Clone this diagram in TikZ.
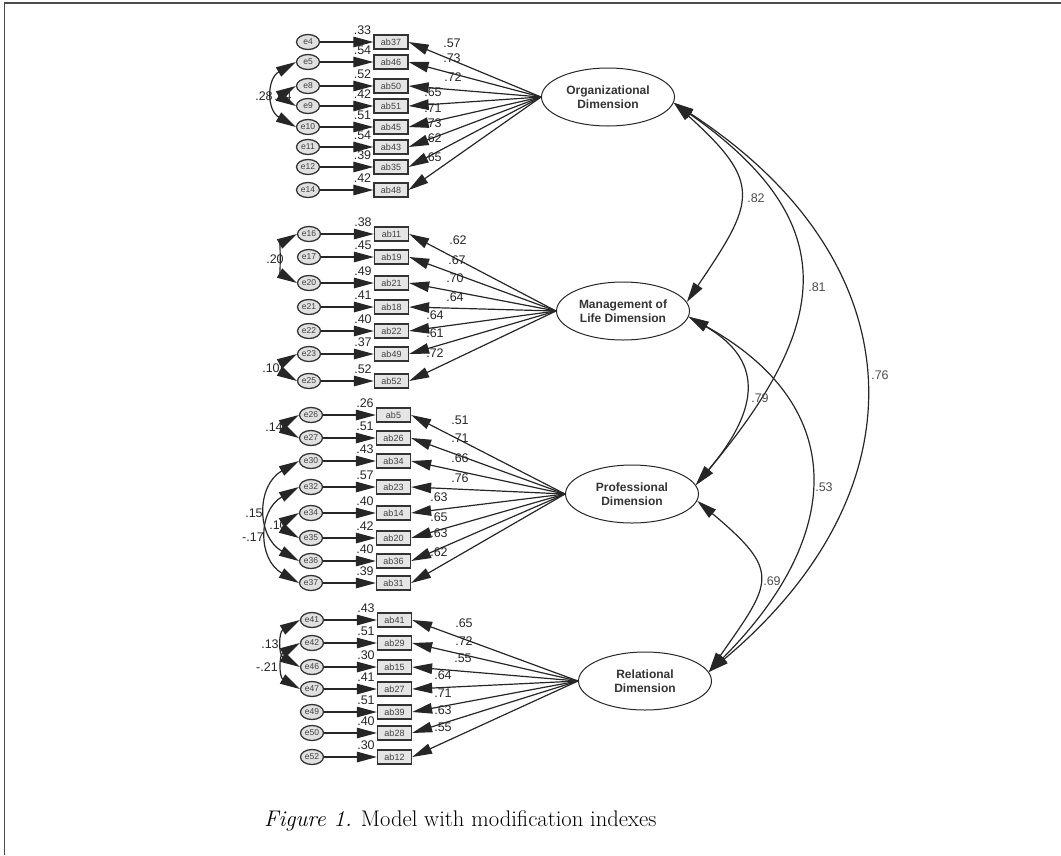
\documentclass[tikz,border=0pt]{standalone}
\usepackage{fontspec}
\usepackage{tikz}
\usetikzlibrary{arrows.meta,shapes.geometric}
\newfontfamily\amosfont{Liberation Sans}

\begin{document}
\begin{tikzpicture}[x=1pt, y=1pt,
    err/.style={ellipse, draw=black!80, fill=black!12, line width=1.3pt, minimum width=23pt, minimum height=15pt, inner sep=0pt, font=\amosfont\fontsize{8.5}{8.5}\selectfont, text=black!75},
    item/.style={rectangle, draw=black!80, fill=black!10, line width=1.3pt, minimum width=34pt, minimum height=14pt, inner sep=0pt, font=\amosfont\fontsize{9}{9}\selectfont, text=black!75},
    latent/.style={ellipse, draw=black!85, line width=1pt, minimum width=133pt, minimum height=58pt, inner sep=0pt, align=center, font=\amosfont\bfseries\fontsize{12}{14}\selectfont, text=black!80},
    reg/.style={-{Triangle[length=20pt, width=10.5pt]}, line width=1.2pt, black!85},
    cov/.style={{Triangle[length=20pt, width=10.5pt]}-{Triangle[length=20pt, width=10.5pt]}, line width=1.2pt, black!85},
    r2/.style={inner sep=0pt, xshift=-2pt, font=\amosfont\fontsize{12.5}{12.5}\selectfont, text=black!85},
    est/.style={inner sep=0pt, font=\amosfont\fontsize{12.5}{12.5}\selectfont, text=black!85},
    ]
    \useasboundingbox (0,0) rectangle (1061,-855);
    \draw[black!70, line width=1.5pt] (4.5,-855) -- (4.5,-3) -- (1061,-3);

    \node[latent] (org) at (608,-97) {Organizational\\Dimension};
    \node[latent] (life) at (623,-311) {Management of\\Life Dimension};
    \node[latent] (prof) at (632,-494) {Professional\\Dimension};
    \node[latent] (rel) at (645,-681) {Relational\\Dimension};

    \node[err] (e4) at (308,-42) {e4};
    \node[err] (e5) at (308,-62) {e5};
    \node[err] (e8) at (308,-86) {e8};
    \node[err] (e9) at (308,-106) {e9};
    \node[err] (e10) at (308,-127) {e10};
    \node[err] (e11) at (308,-147) {e11};
    \node[err] (e12) at (308,-167) {e12};
    \node[err] (e14) at (308,-190) {e14};
    \node[item, label={[r2]north west:.33}] (ab37) at (391,-42) {ab37};
    \node[item, label={[r2]north west:.54}] (ab46) at (391,-62) {ab46};
    \node[item, label={[r2]north west:.52}] (ab50) at (391,-86) {ab50};
    \node[item, label={[r2]north west:.42}] (ab51) at (391,-106) {ab51};
    \node[item, label={[r2]north west:.51}] (ab45) at (391,-127) {ab45};
    \node[item, label={[r2]north west:.54}] (ab43) at (391,-147) {ab43};
    \node[item, label={[r2]north west:.39}] (ab35) at (391,-167) {ab35};
    \node[item, label={[r2]north west:.42}] (ab48) at (391,-190) {ab48};
    \draw[reg] (e4) -- (ab37);
    \draw[reg] (e5) -- (ab46);
    \draw[reg] (e8) -- (ab50);
    \draw[reg] (e9) -- (ab51);
    \draw[reg] (e10) -- (ab45);
    \draw[reg] (e11) -- (ab43);
    \draw[reg] (e12) -- (ab35);
    \draw[reg] (e14) -- (ab48);
    \draw[reg] (org.west) -- (ab37.east) node[est] at (452,-43) {.57};
    \draw[reg] (org.west) -- (ab46.east) node[est] at (452,-58) {.73};
    \draw[reg] (org.west) -- (ab50.east) node[est] at (453,-77) {.72};
    \draw[reg] (org.west) -- (ab51.east) node[est] at (433,-92) {.65};
    \draw[reg] (org.west) -- (ab45.east) node[est] at (433,-108) {.71};
    \draw[reg] (org.west) -- (ab43.east) node[est] at (433,-123) {.73};
    \draw[reg] (org.west) -- (ab35.east) node[est] at (433,-138) {.62};
    \draw[reg] (org.west) -- (ab48.east) node[est] at (433,-157) {.65};
    \draw[cov] (e5.west) to[out=210, in=150, looseness=1.33] (e10.west) node[est] at (264,-96) {.28};
    \draw[cov] (e8.west) to[out=210, in=150, looseness=1.4] (e9.west) node[est] at (283,-96) {.24};

    \node[err] (e16) at (309,-234) {e16};
    \node[err] (e17) at (309,-257) {e17};
    \node[err] (e20) at (309,-283) {e20};
    \node[err] (e21) at (309,-307) {e21};
    \node[err] (e22) at (309,-331) {e22};
    \node[err] (e23) at (309,-354) {e23};
    \node[err] (e25) at (309,-381) {e25};
    \node[item, label={[r2]north west:.38}] (ab11) at (391.5,-234) {ab11};
    \node[item, label={[r2]north west:.45}] (ab19) at (391.5,-257) {ab19};
    \node[item, label={[r2]north west:.49}] (ab21) at (391.5,-283) {ab21};
    \node[item, label={[r2]north west:.41}] (ab18) at (391.5,-307) {ab18};
    \node[item, label={[r2]north west:.40}] (ab22) at (391.5,-331) {ab22};
    \node[item, label={[r2]north west:.37}] (ab49) at (391.5,-354) {ab49};
    \node[item, label={[r2]north west:.52}] (ab52) at (391.5,-381) {ab52};
    \draw[reg] (e16) -- (ab11);
    \draw[reg] (e17) -- (ab19);
    \draw[reg] (e20) -- (ab21);
    \draw[reg] (e21) -- (ab18);
    \draw[reg] (e22) -- (ab22);
    \draw[reg] (e23) -- (ab49);
    \draw[reg] (e25) -- (ab52);
    \draw[reg] (life.west) -- (ab11.east) node[est] at (458,-240) {.62};
    \draw[reg] (life.west) -- (ab19.east) node[est] at (457,-260) {.67};
    \draw[reg] (life.west) -- (ab21.east) node[est] at (455,-278) {.70};
    \draw[reg] (life.west) -- (ab18.east) node[est] at (455,-297) {.64};
    \draw[reg] (life.west) -- (ab22.east) node[est] at (435,-315) {.64};
    \draw[reg] (life.west) -- (ab49.east) node[est] at (435,-333) {.61};
    \draw[reg] (life.west) -- (ab52.east) node[est] at (435,-353) {.72};
    \draw[cov] (e16.west) to[out=210, in=150, looseness=1] (e20.west) node[est] at (275,-259) {.20};
    \draw[cov] (e23.west) to[out=210, in=150, looseness=1.6] (e25.west) node[est] at (271,-368) {.10};

    \node[err] (e26) at (311,-415) {e26};
    \node[err] (e27) at (311,-438) {e27};
    \node[err] (e30) at (311,-461) {e30};
    \node[err] (e32) at (311,-487) {e32};
    \node[err] (e34) at (311,-513) {e34};
    \node[err] (e35) at (311,-538) {e35};
    \node[err] (e36) at (311,-561) {e36};
    \node[err] (e37) at (311,-583) {e37};
    \node[item, label={[r2]north west:.26}] (ab5) at (393.5,-415) {ab5};
    \node[item, label={[r2]north west:.51}] (ab26) at (393.5,-438) {ab26};
    \node[item, label={[r2]north west:.43}] (ab34) at (393.5,-461) {ab34};
    \node[item, label={[r2]north west:.57}] (ab23) at (393.5,-487) {ab23};
    \node[item, label={[r2]north west:.40}] (ab14) at (393.5,-513) {ab14};
    \node[item, label={[r2]north west:.42}] (ab20) at (393.5,-538) {ab20};
    \node[item, label={[r2]north west:.40}] (ab36) at (393.5,-561) {ab36};
    \node[item, label={[r2]north west:.39}] (ab31) at (393.5,-583) {ab31};
    \draw[reg] (e26) -- (ab5);
    \draw[reg] (e27) -- (ab26);
    \draw[reg] (e30) -- (ab34);
    \draw[reg] (e32) -- (ab23);
    \draw[reg] (e34) -- (ab14);
    \draw[reg] (e35) -- (ab20);
    \draw[reg] (e36) -- (ab36);
    \draw[reg] (e37) -- (ab31);
    \draw[reg] (prof.west) -- (ab5.east) node[est] at (460,-420) {.51};
    \draw[reg] (prof.west) -- (ab26.east) node[est] at (460,-438) {.71};
    \draw[reg] (prof.west) -- (ab34.east) node[est] at (460,-458) {.66};
    \draw[reg] (prof.west) -- (ab23.east) node[est] at (460,-478) {.76};
    \draw[reg] (prof.west) -- (ab14.east) node[est] at (439,-497) {.63};
    \draw[reg] (prof.west) -- (ab20.east) node[est] at (439,-517) {.65};
    \draw[reg] (prof.west) -- (ab36.east) node[est] at (439,-533) {.63};
    \draw[reg] (prof.west) -- (ab31.east) node[est] at (439,-552) {.62};
    \draw[cov] (e26.west) to[out=210, in=150, looseness=1.4] (e27.west) node[est] at (274,-427) {.14};
    \draw[cov] (e30.west) to[out=210, in=150, looseness=1.26] (e36.west) node[est] at (254,-513) {.15};
    \draw[cov] (e32.west) to[out=210, in=150, looseness=1.27] (e37.west) node[est] at (253,-537) {-.17};
    \draw[cov] (e34.west) to[out=210, in=150, looseness=1.5] (e35.west) node[est] at (278,-525) {.10};

    \node[err] (e41) at (312,-620) {e41};
    \node[err] (e42) at (312,-643) {e42};
    \node[err] (e46) at (312,-667) {e46};
    \node[err] (e47) at (312,-689) {e47};
    \node[err] (e49) at (312,-712) {e49};
    \node[err] (e50) at (312,-733) {e50};
    \node[err] (e52) at (312,-757) {e52};
    \node[item, label={[r2]north west:.43}] (ab41) at (394.5,-620) {ab41};
    \node[item, label={[r2]north west:.51}] (ab29) at (394.5,-643) {ab29};
    \node[item, label={[r2]north west:.30}] (ab15) at (394.5,-667) {ab15};
    \node[item, label={[r2]north west:.41}] (ab27) at (394.5,-689) {ab27};
    \node[item, label={[r2]north west:.51}] (ab39) at (394.5,-712) {ab39};
    \node[item, label={[r2]north west:.40}] (ab28) at (394.5,-733) {ab28};
    \node[item, label={[r2]north west:.30}] (ab12) at (394.5,-757) {ab12};
    \draw[reg] (e41) -- (ab41);
    \draw[reg] (e42) -- (ab29);
    \draw[reg] (e46) -- (ab15);
    \draw[reg] (e47) -- (ab27);
    \draw[reg] (e49) -- (ab39);
    \draw[reg] (e50) -- (ab28);
    \draw[reg] (e52) -- (ab12);
    \draw[reg] (rel.west) -- (ab41.east) node[est] at (464,-623) {.65};
    \draw[reg] (rel.west) -- (ab29.east) node[est] at (464,-641) {.72};
    \draw[reg] (rel.west) -- (ab15.east) node[est] at (463,-658) {.55};
    \draw[reg] (rel.west) -- (ab27.east) node[est] at (443,-675) {.64};
    \draw[reg] (rel.west) -- (ab39.east) node[est] at (443,-693) {.71};
    \draw[reg] (rel.west) -- (ab28.east) node[est] at (443,-710) {.63};
    \draw[reg] (rel.west) -- (ab12.east) node[est] at (443,-727) {.55};
    \draw[cov] (e41.west) to[out=210, in=150, looseness=1.34] (e46.west) node[est] at (270,-644) {.13};
    \draw[cov] (e42.west) to[out=210, in=150, looseness=1.34] (e47.west) node[est] at (267,-667) {-.21};

    \draw[cov] (org.-5) to[out=-42, in=56, looseness=1.55] (life.8) node[est, text=black!70] at (756,-198) {.82};
    \draw[cov] (org.-5) to[out=-35, in=50, looseness=1.4] (prof.8) node[est, text=black!70] at (817,-287) {.81};
    \draw[cov] (org.-5) to[out=-33, in=40, looseness=1.29] (rel.8) node[est, text=black!70] at (880,-375) {.76};
    \draw[cov] (life.-5) to[out=-30, in=50, looseness=1.4] (prof.8) node[est, text=black!70] at (760,-398) {.79};
    \draw[cov] (life.-5) to[out=-29, in=45, looseness=1.35] (rel.8) node[est, text=black!70] at (824,-487) {.53};
    \draw[cov] (prof.-6) to[out=-40, in=55, looseness=1.65] (rel.8) node[est, text=black!70] at (772,-581) {.69};

    \node[anchor=base west, inner sep=0pt, font=\fontsize{22.6}{22.6}\selectfont] (caption) at (264,-826) {\textit{Figure 1.} Model with modification indexes};
\end{tikzpicture}
\end{document}
